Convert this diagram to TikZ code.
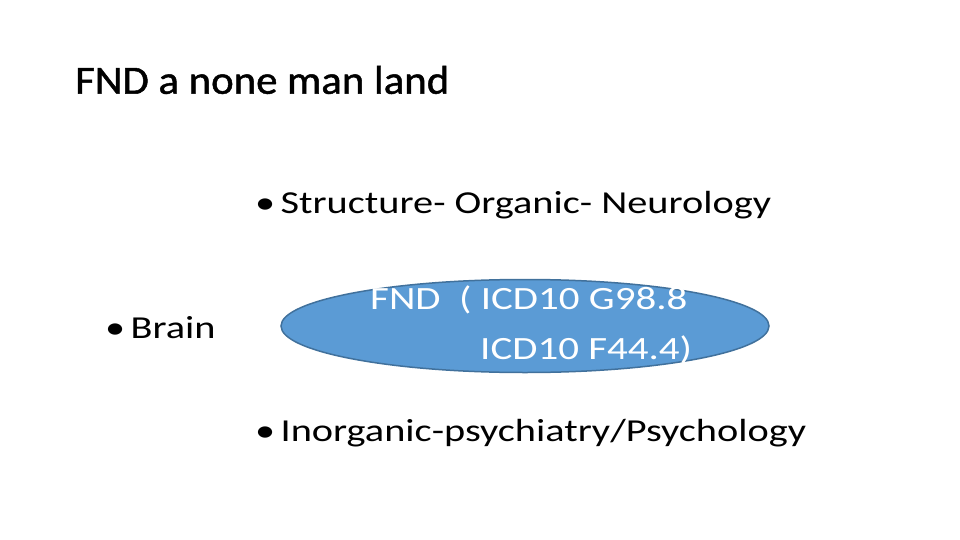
\documentclass[tikz,border=0pt]{standalone}
\usepackage{fontspec}
\setmainfont{Carlito}
\newfontfamily\widefont[FakeStretch=1.26]{Carlito}
\newfontfamily\titlefont[FakeStretch=1.07,FakeBold=1.2]{Carlito}
\usetikzlibrary{shapes.geometric}
\definecolor{efill}{HTML}{5B9BD5}
\definecolor{edraw}{HTML}{41719C}
\tikzset{x=1pt,y=1pt,
 txt/.style={anchor=west,inner sep=0pt,font=\widefont\fontsize{32}{38}\selectfont},
 etxt/.style={txt,text=white,font=\widefont\fontsize{32.5}{38}\selectfont},
}
\begin{document}
\begin{tikzpicture}
\useasboundingbox (0,0) rectangle (960,-540);
\node[anchor=west,inner sep=0pt,font=\titlefont\fontsize{40}{46}\selectfont] (title) at (75,-80) {FND a none man land};
\node[txt] (s) at (255,-205) {•\,Structure- Organic- Neurology};
\node[txt] (b) at (105,-328) {•\,Brain};
\node[txt] (i) at (255,-433) {•\,Inorganic-psychiatry/Psychology};
\node[ellipse,fill=efill,draw=edraw,line width=1.5pt,minimum width=488,minimum height=93,inner sep=0pt] (e) at (525,-326) {};
\node[etxt] (l1) at (370,-300) {FND\ \ ( ICD10 G98.8};
\node[etxt] (l2) at (480,-350) {ICD10 F44.4)};
\end{tikzpicture}
\end{document}
